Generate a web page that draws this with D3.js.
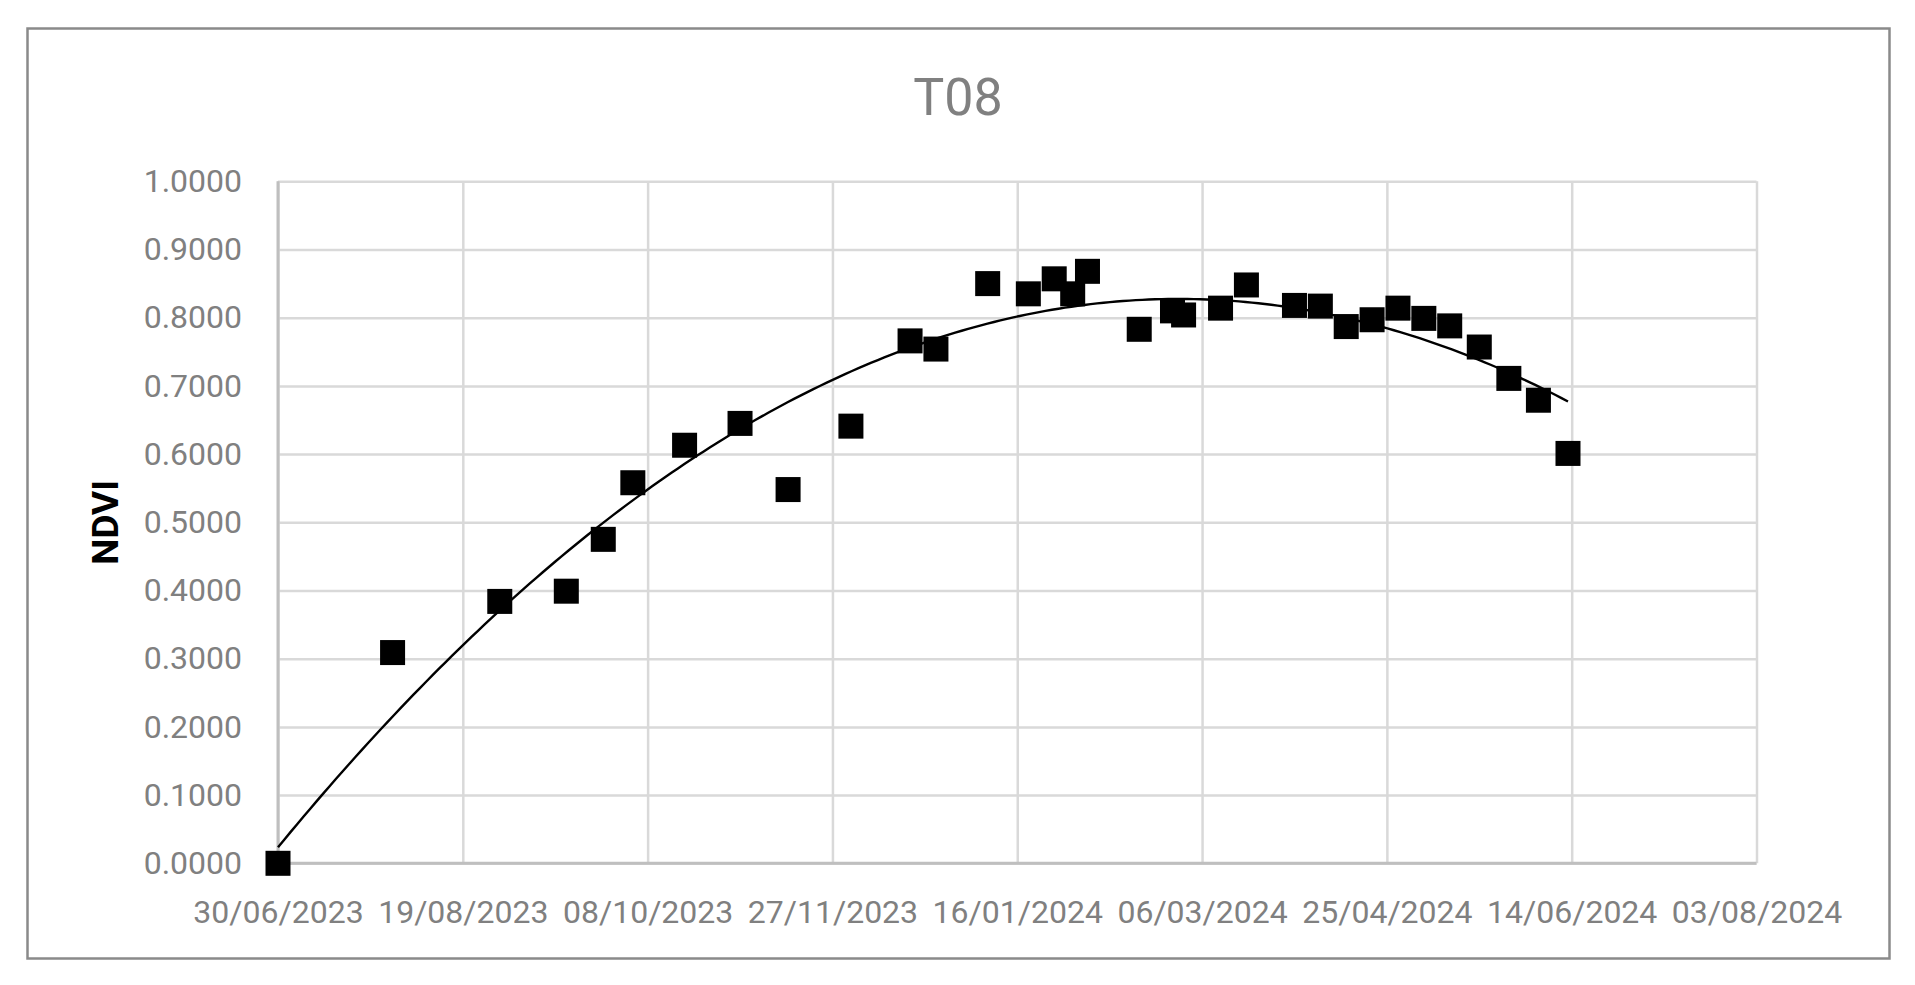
<!DOCTYPE html>
<html>
<head>
<meta charset="utf-8">
<script src="https://cdn.jsdelivr.net/npm/d3@7/dist/d3.min.js"></script>
<style>
  html, body { margin: 0; padding: 0; background: #ffffff; }
  svg { display: block; }
  text { font-family: Roboto, "Open Sans", sans-serif; }
</style>
</head>
<body>
<svg id="chart" width="1915" height="985"></svg>
<script>
// ---- Data ----
const title = "T08";
const yLabel = "NDVI";
const dates = [
  "30/06/2023", "31/07/2023", "29/08/2023", "16/09/2023", "26/09/2023",
  "04/10/2023", "18/10/2023", "02/11/2023", "15/11/2023", "02/12/2023",
  "18/12/2023", "25/12/2023", "08/01/2024", "19/01/2024", "26/01/2024",
  "31/01/2024", "04/02/2024", "18/02/2024", "27/02/2024", "01/03/2024",
  "11/03/2024", "18/03/2024", "31/03/2024", "07/04/2024", "14/04/2024",
  "21/04/2024", "28/04/2024", "05/05/2024", "12/05/2024", "20/05/2024",
  "28/05/2024", "05/06/2024", "13/06/2024"
];
const ndvi = [
  0.000, 0.309, 0.384, 0.399, 0.475,
  0.558, 0.613, 0.645, 0.548, 0.641,
  0.766, 0.754, 0.850, 0.835, 0.857,
  0.835, 0.868, 0.783, 0.810, 0.804,
  0.814, 0.848, 0.818, 0.817, 0.787,
  0.797, 0.814, 0.799, 0.788, 0.757,
  0.711, 0.679, 0.601
];
const xTickLabels = [
  "30/06/2023", "19/08/2023", "08/10/2023", "27/11/2023", "16/01/2024",
  "06/03/2024", "25/04/2024", "14/06/2024", "03/08/2024"
];
const yTicks = [0, 0.1, 0.2, 0.3, 0.4, 0.5, 0.6, 0.7, 0.8, 0.9, 1.0];
const trendOrder = 2;

// ---- Layout ----
const W = 1915, H = 985;
const plot = { left: 278, right: 1756.5, top: 181.3, bottom: 863.3 };

const parse = d3.utcParse("%d/%m/%Y");
const pts = dates.map((d, i) => ({ date: parse(d), v: ndvi[i] }));
const xTickDates = xTickLabels.map(parse);

const x = d3.scaleUtc()
  .domain([xTickDates[0], xTickDates[xTickDates.length - 1]])
  .range([plot.left, plot.right]);
const y = d3.scaleLinear().domain([0, 1]).range([plot.bottom, plot.top]);

const svg = d3.select("#chart");
svg.append("rect").attr("x", 0).attr("y", 0).attr("width", W).attr("height", H).attr("fill", "#fff");

// outer border
svg.append("rect")
  .attr("x", 27.5).attr("y", 28.5).attr("width", 1862).attr("height", 930)
  .attr("fill", "none").attr("stroke", "#8a8a8a").attr("stroke-width", 2.5);

// title
svg.append("text")
  .attr("x", 958).attr("y", 115)
  .attr("text-anchor", "middle")
  .attr("font-size", 52).attr("fill", "#808080")
  .text(title);

// y axis title
svg.append("text")
  .attr("transform", `translate(118,${(plot.top + plot.bottom) / 2}) rotate(-90)`)
  .attr("text-anchor", "middle")
  .attr("font-size", 37).attr("font-weight", "bold").attr("fill", "#000")
  .text(yLabel);

// y gridlines + labels
const yAxis = svg.append("g")
  .attr("transform", `translate(${plot.left},0)`)
  .call(d3.axisLeft(y).tickValues(yTicks)
    .tickSize(-(plot.right - plot.left)).tickPadding(36)
    .tickFormat(d3.format(".4f")));
yAxis.select(".domain").remove();
yAxis.selectAll(".tick line").attr("stroke", "#d9d9d9").attr("stroke-width", 2.5);
yAxis.selectAll(".tick text").attr("fill", "#808080").attr("font-size", 32)
  .style("font-family", "Roboto, 'Open Sans', sans-serif");

// x gridlines + labels
const xAxis = svg.append("g")
  .attr("transform", `translate(0,${plot.bottom})`)
  .call(d3.axisBottom(x).tickValues(xTickDates)
    .tickSize(-(plot.bottom - plot.top)).tickPadding(37)
    .tickFormat((d, i) => xTickLabels[i]));
xAxis.select(".domain").remove();
xAxis.selectAll(".tick line").attr("stroke", "#d9d9d9").attr("stroke-width", 2.5);
xAxis.selectAll(".tick text").attr("fill", "#808080").attr("font-size", 32)
  .style("font-family", "Roboto, 'Open Sans', sans-serif");

// axis lines
svg.append("line")
  .attr("x1", plot.left).attr("x2", plot.left)
  .attr("y1", plot.top).attr("y2", plot.bottom)
  .attr("stroke", "#bfbfbf").attr("stroke-width", 3);
svg.append("line")
  .attr("x1", plot.left).attr("x2", plot.right)
  .attr("y1", plot.bottom).attr("y2", plot.bottom)
  .attr("stroke", "#bfbfbf").attr("stroke-width", 3);

// ---- Polynomial trendline (least squares fit of the data) ----
const DAY = 86400000;
const t0 = pts[0].date.getTime();
const ts = pts.map(p => (p.date.getTime() - t0) / DAY / 100);
function polyfit(xs, ys, n) {
  const m = n + 1;
  const A = Array.from({ length: m }, () => new Array(m + 1).fill(0));
  for (let k = 0; k < xs.length; k++) {
    for (let i = 0; i < m; i++) {
      for (let j = 0; j < m; j++) A[i][j] += Math.pow(xs[k], i + j);
      A[i][m] += ys[k] * Math.pow(xs[k], i);
    }
  }
  for (let i = 0; i < m; i++) {
    let p = i;
    for (let r = i + 1; r < m; r++) if (Math.abs(A[r][i]) > Math.abs(A[p][i])) p = r;
    [A[i], A[p]] = [A[p], A[i]];
    for (let r = 0; r < m; r++) {
      if (r === i) continue;
      const f = A[r][i] / A[i][i];
      for (let c = i; c <= m; c++) A[r][c] -= f * A[i][c];
    }
  }
  return A.map((row, i) => row[m] / row[i]);
}
const coef = polyfit(ts, ndvi, trendOrder);
const evalPoly = t => coef.reduce((s, c, i) => s + c * Math.pow(t, i), 0);
const tEnd = ts[ts.length - 1];
const trend = d3.range(0, 201).map(k => {
  const t = tEnd * k / 200;
  return { date: new Date(t0 + t * 100 * DAY), v: evalPoly(t) };
});
svg.append("path")
  .datum(trend)
  .attr("fill", "none").attr("stroke", "#000").attr("stroke-width", 2.4)
  .attr("d", d3.line().x(d => x(d.date)).y(d => y(d.v)));

// markers
const S = 25;
svg.append("g").selectAll("rect").data(pts).join("rect")
  .attr("x", d => x(d.date) - S / 2)
  .attr("y", d => y(d.v) - S / 2)
  .attr("width", S).attr("height", S)
  .attr("fill", "#000");
</script>
</body>
</html>
